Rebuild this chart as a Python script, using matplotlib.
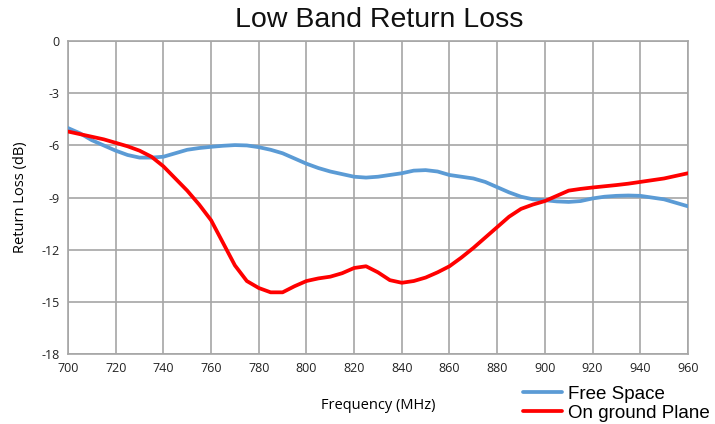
import matplotlib
matplotlib.use('Agg')
import matplotlib.pyplot as plt

# Frequency points (MHz) and readings (dB)
freq = list(range(700, 961, 5))

free_space = [-5.0, -5.3, -5.7, -6.0, -6.3, -6.55, -6.7, -6.7, -6.65, -6.45,
              -6.25, -6.15, -6.08, -6.02, -5.98, -6.0, -6.1, -6.25, -6.45, -6.75,
              -7.05, -7.3, -7.5, -7.65, -7.8, -7.85, -7.8, -7.7, -7.6, -7.45,
              -7.42, -7.5, -7.7, -7.8, -7.9, -8.1, -8.4, -8.7, -8.95, -9.1,
              -9.15, -9.22, -9.25, -9.2, -9.05, -8.95, -8.9, -8.88, -8.9, -9.0,
              -9.1, -9.3, -9.5]

ground_plane = [-5.2, -5.35, -5.5, -5.65, -5.85, -6.05, -6.3, -6.65, -7.2, -7.9,
                -8.6, -9.4, -10.3, -11.6, -12.9, -13.8, -14.2, -14.45, -14.45, -14.1,
                -13.8, -13.65, -13.55, -13.35, -13.05, -12.95, -13.3, -13.75, -13.9, -13.8,
                -13.6, -13.3, -12.95, -12.45, -11.9, -11.3, -10.7, -10.1, -9.65, -9.4,
                -9.2, -8.9, -8.6, -8.5, -8.42, -8.35, -8.28, -8.2, -8.1, -8.0,
                -7.9, -7.75, -7.6]

x_ticks = list(range(700, 961, 20))
y_ticks = list(range(-18, 1, 3))

plt.rcParams['axes.unicode_minus'] = False
plt.rcParams['font.family'] = ['Open Sans', 'DejaVu Sans']

fig = plt.figure(figsize=(7.15, 4.24), dpi=100)
ax = fig.add_axes([0.0951, 0.165, 0.867, 0.738])

ax.plot(freq, free_space, color='#5B9BD5', linewidth=2.7,
        solid_joinstyle='round', solid_capstyle='round', label='Free Space', zorder=3)
ax.plot(freq, ground_plane, color='#FF0000', linewidth=2.7,
        solid_joinstyle='round', solid_capstyle='round', label='On ground Plane', zorder=4)

ax.set_xlim(700, 960)
ax.set_ylim(-18, 0)
ax.set_xticks(x_ticks)
ax.set_yticks(y_ticks)
ax.tick_params(length=0, labelsize=9, pad=6, colors='#222222')
ax.grid(True, color='#A6A6A6', linewidth=1.2)
ax.set_axisbelow(True)
for s in ax.spines.values():
    s.set_color('#A6A6A6')
    s.set_linewidth(1.2)

ax.set_xlabel('Frequency (MHz)', fontsize=10.5, labelpad=16)
ax.set_ylabel('Return Loss (dB)', fontsize=10.5, labelpad=10)

fig.text(0.531, 0.952, 'Low Band Return Loss', ha='center', va='center',
         fontsize=20.5, family='Liberation Sans', color='#111111')

fig.legend(loc='upper left', bbox_to_anchor=(0.731, 0.09), frameon=False,
           prop={'family': 'Liberation Sans', 'size': 13.5},
           handlelength=2.1, handletextpad=0.32, labelspacing=0.08,
           borderaxespad=0, borderpad=0)

fig.savefig('out.png', dpi=100)
